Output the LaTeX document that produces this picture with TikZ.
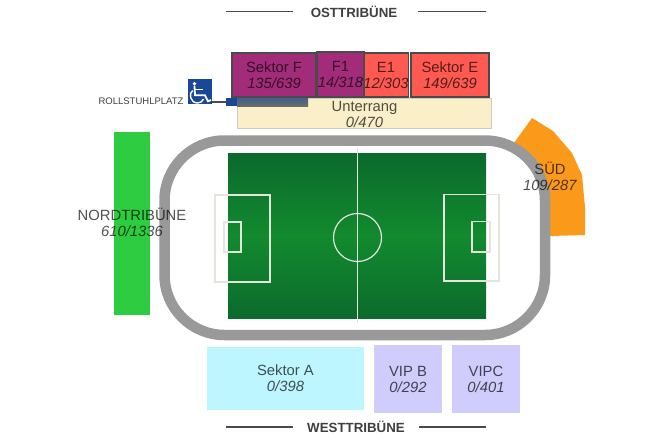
\documentclass[tikz,border=0pt]{standalone}
\usepackage{fontspec}
\setmainfont{Liberation Sans}
\definecolor{txt}{HTML}{3F3F3F}
\definecolor{trackgrey}{HTML}{999999}
\definecolor{pline}{HTML}{E4E6DE}
\definecolor{pdark}{HTML}{0B6A2D}
\definecolor{pmid}{HTML}{128A2E}
\definecolor{rulegrey}{HTML}{4A4A4A}
\definecolor{sred}{HTML}{FF5A52}
\definecolor{spurple}{HTML}{A32C7A}
\definecolor{scream}{HTML}{FAEFC8}
\definecolor{screamedge}{HTML}{CDCDBE}
\definecolor{sorange}{HTML}{FB9A1A}
\definecolor{sgreen}{HTML}{2ECC40}
\definecolor{scyan}{HTML}{BEF6FF}
\definecolor{slilac}{HTML}{D0CDFC}
\definecolor{iconblue}{HTML}{1A4898}
\definecolor{stripetop}{HTML}{3F5F8C}
\definecolor{stripebot}{HTML}{6B6D66}
\newcommand{\seatlabel}[2]{#1\\\textit{#2}}
\tikzset{
  x=1pt,y=-1pt,
  sector/.style={inner sep=0pt,align=center,text=black,text opacity=.68,anchor=center,font=\fontsize{14.8}{16}\selectfont},
  framed/.style={sector,draw=rulegrey,line width=1.2pt},
  heading/.style={inner sep=0pt,text=txt,font=\fontsize{13.3}{15}\selectfont\bfseries},
  headrule/.style={draw=rulegrey,line width=1.2pt},
  fieldline/.style={draw=pline,line width=1.2pt},
}
\begin{document}
\begin{tikzpicture}
\useasboundingbox (0,0) rectangle (650,445);
\fill[white] (0,0) rectangle (650,445);
% headings
\node[heading] (ost) at (354,11.5) {OSTTRIBÜNE};
\coordinate (ostL) at (226,11.5); \coordinate (ostR) at (486,11.5);
\draw[headrule] (ostL) -- ++(67,0);
\draw[headrule] (ostR) -- ++(-68,0);
\node[heading] (west) at (356,427) {WESTTRIBÜNE};
\coordinate (westL) at (226,427); \coordinate (westR) at (486,427);
\draw[headrule] (westL) -- ++(67,0);
\draw[headrule] (westR) -- ++(-67,0);
% Sued stand
\fill[sorange] (532,118) -- (553,131) -- (572,153) -- (582,175) -- (585,207) -- (585,235) -- (550,236) -- (545,200) -- (527,158) -- (514,143) -- cycle;
% track
\draw[trackgrey,line width=10.5pt,rounded corners=60pt] (164.5,140.5) rectangle (545,335);
% pitch
\shade[top color=pdark,bottom color=pdark,middle color=pmid] (228,153.7) rectangle (486,318.7);
\draw[fieldline] (357.5,148) -- (357.5,323);
\node[draw=pline,line width=1.2pt,circle,minimum size=48pt,inner sep=0pt] (centre) at (357.5,237.5) {};
\draw[fieldline] (215,195) rectangle (270,282);
\draw[fieldline] (224,222) rectangle (241,252);
\draw[fieldline] (444,194.5) rectangle (499,281);
\draw[fieldline] (472,221.5) rectangle (490,252);
% east stand
\node[framed,fill=sred,minimum width=44pt,minimum height=44pt] (e1) at (386,75) {\seatlabel{E1}{12/303}};
\node[framed,fill=sred,minimum width=78pt,minimum height=44pt] (se) at (450,75) {\seatlabel{Sektor E}{149/639}};
\node[framed,fill=spurple,minimum width=84pt,minimum height=44pt] (sf) at (274,75) {\seatlabel{Sektor F}{135/639}};
\node[framed,fill=spurple,minimum width=47pt,minimum height=45pt] (f1) at (340.5,74.5) {\seatlabel{F1}{14/318}};
\node[sector,draw=screamedge,line width=1pt,fill=scream,minimum width=254pt,minimum height=30pt] (unter) at (364.5,113) {};
\node[sector] (unterl) at (364.5,114.5) {\seatlabel{Unterrang}{0/470}};
% wheelchair
\shade[top color=stripetop,bottom color=stripebot] (237,98) rectangle (308,106);
\node[fill=iconblue,minimum width=11pt,minimum height=8pt,inner sep=0pt] (rs) at (231.5,102) {};
\node[fill=iconblue,minimum width=24pt,minimum height=25pt,inner sep=0pt] (icon) at (200,91.5) {};
\draw[rulegrey,line width=1.2pt] (rs.west) -- (rs.west -| icon.east);
\fill[white] (194.5,83.8) circle (1.9);
\draw[white,line width=1.8pt] (194.5,86) -- (195,95.3) -- (205,95.3) -- (208,101.3) -- (211,100);
\draw[white,line width=1.4pt] (195,89.6) -- (203,89.6);
\draw[white,line width=1.4pt] (192.7,90.5) .. controls (188.5,93) and (190,103) .. (197.5,103) .. controls (200.5,103) and (202.5,101.5) .. (203.5,99);
\node[inner sep=0pt,text=txt,font=\fontsize{9.5}{12}\selectfont] (rl) at (141,101) {ROLLSTUHLPLATZ};
% north stand
\node[sector,fill=sgreen,minimum width=36pt,minimum height=183pt] (nb) at (132,223.5) {};
\node[sector] (nl) at (132,222.5) {\seatlabel{NORDTRIBÜNE}{610/1336}};
\node[sector] (sl) at (550,176) {\seatlabel{SÜD}{109/287}};
% west stand
\node[sector,fill=scyan,minimum width=157pt,minimum height=63pt] (sa) at (285.5,378.5) {\seatlabel{Sektor A}{0/398}};
\node[sector,fill=slilac,minimum width=68pt,minimum height=68pt] (vb) at (408,379) {\seatlabel{VIP B}{0/292}};
\node[sector,fill=slilac,minimum width=68pt,minimum height=68pt] (vc) at (486,379) {\seatlabel{VIPC}{0/401}};
\end{tikzpicture}
\end{document}
